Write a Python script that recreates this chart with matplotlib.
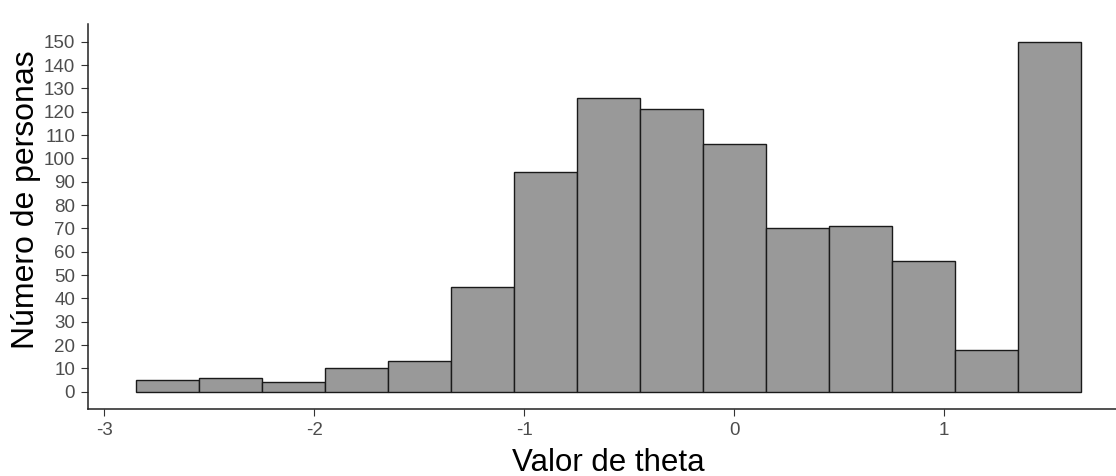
import matplotlib
matplotlib.use("Agg")
import matplotlib.pyplot as plt
import numpy as np

plt.rcParams['font.family'] = ['Liberation Sans', 'DejaVu Sans']

bin_edges = [-2.85, -2.55, -2.25, -1.95, -1.65, -1.35, -1.05, -0.75, -0.45,
             -0.15, 0.15, 0.45, 0.75, 1.05, 1.35, 1.65]
counts = [5, 6, 4, 10, 13, 45, 94, 126, 121, 106, 70, 71, 56, 18, 150]
x_ticks = [-3, -2, -1, 0, 1]
y_ticks = list(range(0, 151, 10))

fig = plt.figure(figsize=(11.16, 4.76), dpi=100)
W, H = 1116, 476
left, right = 88.3, 1128.0
bottom, top = 409.2, 24.2
ax = fig.add_axes([left / W, (H - bottom) / H, (right - left) / W, (bottom - top) / H])

edges = np.array(bin_edges)
widths = np.diff(edges)
ax.bar(edges[:-1], counts, width=widths, align='edge', color='#999999',
       edgecolor='#1a1a1a', linewidth=1.0)

ax.set_xlim(-3.075, 1.875)
ax.set_ylim(-7.5, 157.5)
ax.set_xticks(x_ticks)
ax.set_xticklabels([str(v) for v in x_ticks])
ax.set_yticks(y_ticks)
ax.set_yticklabels([str(v) for v in y_ticks])

for s in ['top', 'right']:
    ax.spines[s].set_visible(False)
for s in ['left', 'bottom']:
    ax.spines[s].set_color('#222222')
    ax.spines[s].set_linewidth(1.1)

ax.tick_params(axis='both', colors='#333333', labelcolor='#4D4D4D',
               labelsize=13.5, length=4.7, width=0.8, pad=4.8)

ax.set_xlabel('Valor de theta', fontsize=22.5, color='black')
ax.xaxis.label.set_va('baseline')
ax.xaxis.set_label_coords(0.5, (bottom - 471) / (bottom - top))

ax.set_ylabel('Número de personas', fontsize=23, color='black')
ax.yaxis.label.set_va('baseline')
ax.yaxis.set_label_coords((34 - left) / (right - left), (bottom - 200) / (bottom - top))

fig.savefig('out.png', dpi=100)
